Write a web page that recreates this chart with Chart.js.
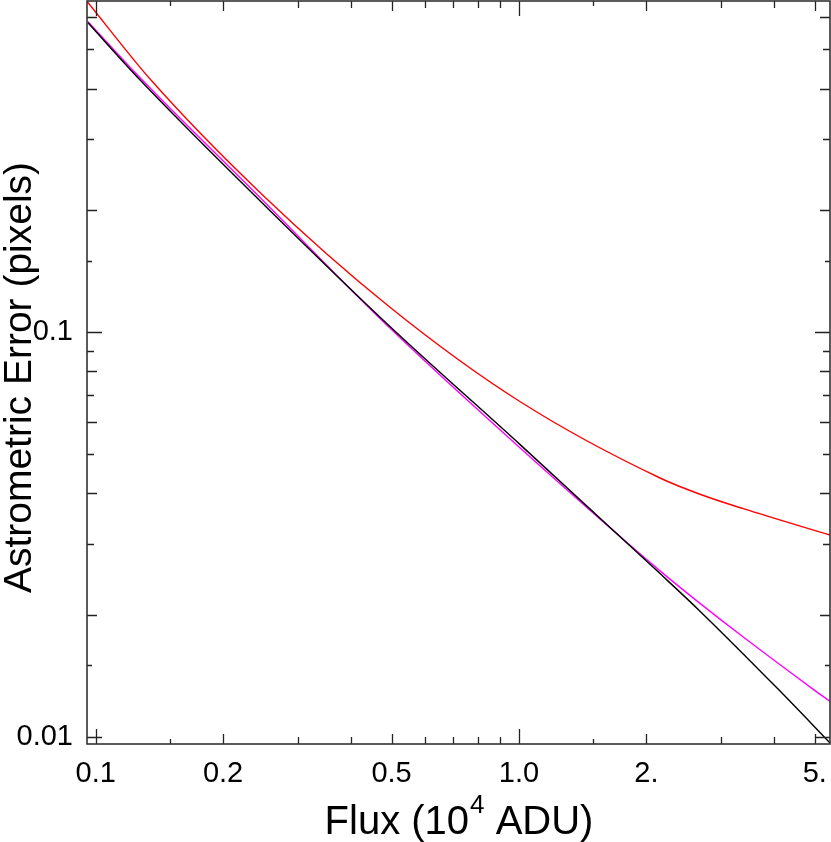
<!DOCTYPE html>
<html>
<head>
<meta charset="utf-8">
<script src="https://cdn.jsdelivr.net/npm/chart.js@4/dist/chart.umd.min.js"></script>
<style>
  html, body { margin: 0; padding: 0; background: #fff; }
  #wrap { width: 831px; height: 842px; position: relative; }
</style>
</head>
<body>
<div id="wrap"><canvas id="c"></canvas></div>
<script>
// ---- data ----
const blackFlux = [0.0959, 0.1272, 0.2444, 0.4957, 1.005, 2.154, 2.677, 4.099, 5.43];
const blackErr  = [0.5823, 0.4209, 0.2114, 0.1033, 0.0528, 0.0253, 0.02043, 0.01309, 0.00965];

const magentaFlux = [0.0959, 0.1272, 0.2444, 0.4957, 1.005, 2.154, 2.677, 3.388, 4.958, 5.43];
const magentaErr  = [0.5857, 0.4262, 0.2154, 0.1024, 0.0518, 0.0257, 0.02136, 0.01763, 0.01309, 0.01222];

const redFlux = [0.0954, 0.1356, 0.2444, 0.4957, 1.005, 2.154, 2.677, 3.388, 5.43];
const redErr  = [0.6577, 0.4183, 0.2216, 0.1153, 0.0674, 0.0436, 0.03975, 0.03661, 0.0315];

// axis ticks
const xLabelValues = [0.1, 0.2, 0.5, 1.0, 2.0, 5.0];
const xLabelTexts  = ['0.1', '0.2', '0.5', '1.0', '2.', '5.'];
const xTickMarks   = [0.1, 0.15, 0.2, 0.3, 0.4, 0.5, 0.6, 0.7, 0.8, 0.9, 1, 1.5, 2, 3, 4, 5];
const yLabelValues = [0.01, 0.1];
const yLabelTexts  = ['0.01', '0.1'];
const yTickMarks   = [0.01, 0.015, 0.02, 0.03, 0.04, 0.05, 0.06, 0.07, 0.08, 0.09, 0.1, 0.15, 0.2, 0.3, 0.4, 0.5, 0.6];

const xTitleMain = 'Flux (10';
const xTitleSup  = '4';
const xTitleEnd  = ' ADU)';
const yTitle     = 'Astrometric Error (pixels)';

const toPts = (xs, ys) => xs.map((x, i) => ({ x: x, y: ys[i] }));

// tick mark lengths (style)
function mant(v) {
  const r = v / Math.pow(10, Math.floor(Math.log10(v) + 1e-9));
  return Math.round(r * 10) / 10;
}
function xTickLen(v) {
  const m = mant(v);
  if (m === 1) return 15;
  if (m === 1.5) return 5;
  if (m === 2 || m === 5) return 10;
  return 7;
}
function yTickLen(v) {
  const m = mant(v);
  if (m === 1) return 15;
  if (m === 1.5) return 5;
  if (m === 2 || m === 4 || m === 6 || m === 8) return 10;
  return 7;
}

const FONT = "'Liberation Sans', Arial, Helvetica, sans-serif";

const frame = {
  id: 'frame',
  afterDatasetsDraw(chart) {
    const { ctx, chartArea: a, scales } = chart;
    ctx.save();
    ctx.strokeStyle = '#222';
    ctx.lineWidth = 1.3;
    ctx.beginPath();
    xTickMarks.forEach(v => {
      const px = Math.round(scales.x.getPixelForValue(v)) + 0.5;
      const L = xTickLen(v);
      ctx.moveTo(px, a.bottom); ctx.lineTo(px, a.bottom - L);
      ctx.moveTo(px, a.top); ctx.lineTo(px, a.top + L);
    });
    yTickMarks.forEach(v => {
      const py = Math.round(scales.y.getPixelForValue(v)) + 0.5;
      const L = yTickLen(v);
      ctx.moveTo(a.left, py); ctx.lineTo(a.left + L, py);
      ctx.moveTo(a.right, py); ctx.lineTo(a.right - L, py);
    });
    ctx.stroke();
    ctx.strokeStyle = '#333';
    ctx.lineWidth = 1.6;
    ctx.strokeRect(a.left, a.top, a.right - a.left, a.bottom - a.top);

    // axis titles
    ctx.fillStyle = '#000';
    const big = '40px ' + FONT, small = '26px ' + FONT;
    ctx.font = big;
    const w1 = ctx.measureText(xTitleMain).width;
    const w3 = ctx.measureText(xTitleEnd).width;
    ctx.font = small;
    const w2 = ctx.measureText(xTitleSup).width;
    const cx = (a.left + a.right) / 2;
    let x0 = cx - (w1 + w2 + w3) / 2;
    const base = 834;
    ctx.textBaseline = 'alphabetic';
    ctx.textAlign = 'left';
    ctx.font = big;
    ctx.fillText(xTitleMain, x0, base);
    ctx.font = small;
    ctx.fillText(xTitleSup, x0 + w1 + 1, base - 21);
    ctx.font = big;
    ctx.fillText(xTitleEnd, x0 + w1 + w2 + 1, base);

    ctx.save();
    ctx.translate(31, (a.top + a.bottom) / 2 + 5);
    ctx.rotate(-Math.PI / 2);
    ctx.textAlign = 'center';
    ctx.font = '39px ' + FONT;
    ctx.fillText(yTitle, 0, 0);
    ctx.restore();
    ctx.restore();
  }
};

new Chart(document.getElementById('c'), {
  type: 'line',
  data: {
    datasets: [
      { label: 'black', data: toPts(blackFlux, blackErr), borderColor: '#000000', borderWidth: 1.4, pointRadius: 0, cubicInterpolationMode: 'monotone' },
      { label: 'magenta', data: toPts(magentaFlux, magentaErr), borderColor: '#ff00ff', borderWidth: 1.4, pointRadius: 0, cubicInterpolationMode: 'monotone' },
      { label: 'red', data: toPts(redFlux, redErr), borderColor: '#ff0000', borderWidth: 1.4, pointRadius: 0, cubicInterpolationMode: 'monotone' }
    ]
  },
  options: {
    responsive: true,
    maintainAspectRatio: false,
    animation: false,
    events: [],
    layout: { padding: { top: 1, right: 1, left: 0, bottom: 0 } },
    plugins: { legend: { display: false }, tooltip: { enabled: false } },
    scales: {
      x: {
        type: 'logarithmic',
        min: 0.0954, max: 5.43,
        afterBuildTicks: s => { s.ticks = xLabelValues.map(v => ({ value: v })); },
        afterFit: s => { s.height = 98; s.paddingLeft = 0; s.paddingRight = 0; },
        grid: { display: false, drawTicks: false },
        border: { display: false },
        ticks: {
          autoSkip: false, maxRotation: 0, minRotation: 0,
          color: '#000', padding: 13,
          font: { family: FONT, size: 29 },
          callback: (v, i) => xLabelTexts[i]
        },
        title: { display: false }
      },
      y: {
        type: 'logarithmic',
        min: 0.00959, max: 0.659,
        afterBuildTicks: s => { s.ticks = yLabelValues.map(v => ({ value: v })); },
        afterFit: s => { s.width = 87; s.paddingTop = 0; s.paddingBottom = 0; },
        grid: { display: false, drawTicks: false },
        border: { display: false },
        ticks: {
          autoSkip: false, color: '#000', padding: 14,
          font: { family: FONT, size: 29 },
          callback: (v, i) => yLabelTexts[i]
        },
        title: { display: false }
      }
    }
  },
  plugins: [frame]
});
</script>
</body>
</html>
